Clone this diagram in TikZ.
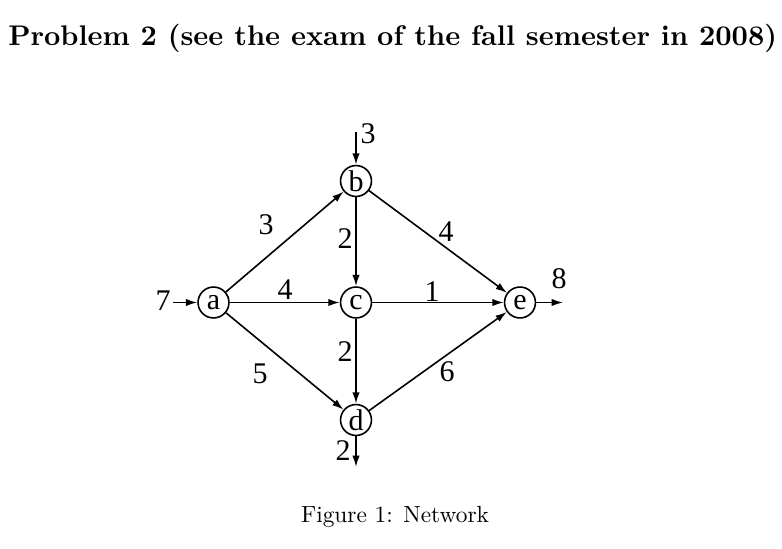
\documentclass[tikz,border=0pt]{standalone}
\usepackage{fontspec}
\newfontfamily\graphfont{Liberation Serif}
\usetikzlibrary{arrows.meta}
\begin{document}
\begin{tikzpicture}[x=0.75pt,y=-0.75pt,
  vtx/.style={circle,draw,line width=1.2pt,minimum size=23.2pt,inner sep=0pt,font=\graphfont\fontsize{22.5}{22.5}\selectfont},
  lbl/.style={inner sep=0pt,font=\graphfont\fontsize{22.5}{22.5}\selectfont},
  edge/.style={line width=1.2pt,-{Latex[length=8.5pt,width=5.5pt]}}]
\useasboundingbox (0,0) rectangle (782,549);
% title and caption
\node[anchor=base west,inner sep=0pt] (title) at (8,46)
  {\resizebox{576.5pt}{!}{\bfseries Problem 2 (see the exam of the fall semester in 2008)}};
\node[anchor=base,inner sep=0pt] (caption) at (395,522)
  {\resizebox{141pt}{!}{Figure 1: Network}};
% vertices
\node[vtx] (a) at (213.5,302.5) {a};
\node[vtx] (b) at (356,181) {b};
\node[vtx] (c) at (356,302.5) {c};
\node[vtx] (d) at (356,420) {d};
\node[vtx] (e) at (520,302.5) {e};
% free ends
\coordinate (ain) at (173,302.5);
\coordinate (bin) at (356,132);
\coordinate (eout) at (563,302.5);
\coordinate (dout) at (356,467);
% edges
\draw[edge] (ain) -- (a);
\draw[edge] (bin) -- (b);
\draw[edge] (e) -- (eout);
\draw[edge] (d) -- (dout);
\draw[edge] (a) -- (b);
\draw[edge] (a) -- (c);
\draw[edge] (a) -- (d);
\draw[edge] (b) -- (c);
\draw[edge] (b) -- (e);
\draw[edge] (c) -- (e);
\draw[edge] (c) -- (d);
\draw[edge] (d) -- (e);
% labels
\node[lbl] (l7) at (163,301) {7};
\node[lbl] (l3in) at (368,134) {3};
\node[lbl] (l8) at (559,279) {8};
\node[lbl] (l2out) at (343,451) {2};
\node[lbl] (lab) at (266,225) {3};
\node[lbl] (lbc) at (345,239) {2};
\node[lbl] (lbe) at (446,232) {4};
\node[lbl] (lac) at (285,290) {4};
\node[lbl] (lce) at (432,292) {1};
\node[lbl] (lcd) at (345,352) {2};
\node[lbl] (lad) at (260,374) {5};
\node[lbl] (lde) at (447,372) {6};
\end{tikzpicture}
\end{document}
